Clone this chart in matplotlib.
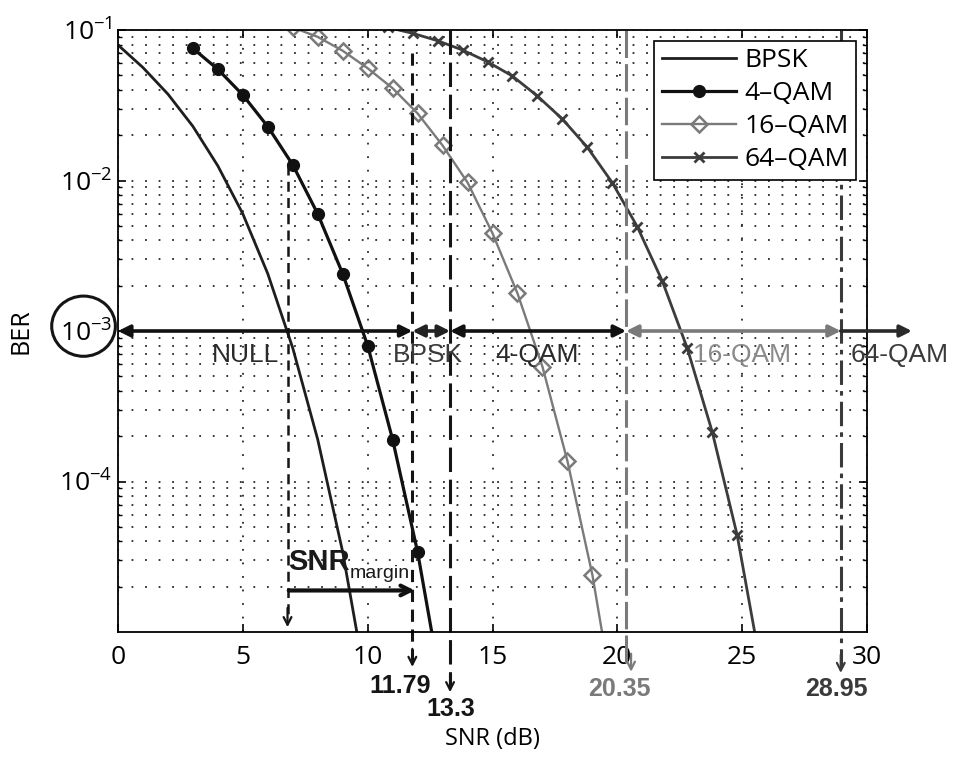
import matplotlib
matplotlib.use("Agg")
import matplotlib.pyplot as plt
from matplotlib.patches import Ellipse

# BER curves (SNR in dB)
snr_bpsk = [0, 1, 2, 3, 4, 5, 6, 7, 8, 9, 10]
ber_bpsk = [0.0795, 0.0563, 0.0375, 0.0229, 0.0125, 0.0060, 0.0024, 7.7e-4, 1.9e-4, 3.4e-5, 3.9e-6]

snr_4qam = [3, 4, 5, 6, 7, 8, 9, 10, 11, 12, 13]
ber_4qam = [0.0755, 0.0548, 0.0370, 0.0228, 0.0127, 0.0060, 0.0024, 8.0e-4, 1.9e-4, 3.4e-5, 3.9e-6]

snr_16qam = [7, 8, 9, 10, 11, 12, 13, 14, 15, 16, 17, 18, 19, 20]
ber_16qam = [0.104, 0.090, 0.0728, 0.0557, 0.0410, 0.0279, 0.0171, 0.0097, 0.00446,
             0.00178, 5.8e-4, 1.37e-4, 2.4e-5, 2.5e-6]

snr_64qam = [10.8, 11.8, 12.8, 13.8, 14.8, 15.8, 16.8, 17.8, 18.8, 19.8, 20.8, 21.8,
             22.8, 23.8, 24.8, 25.8]
ber_64qam = [0.104, 0.0951, 0.0849, 0.0736, 0.0615, 0.0494, 0.0364, 0.0256, 0.0166,
             0.00966, 0.00493, 0.00215, 7.7e-4, 2.14e-4, 4.4e-5, 5.3e-6]

target_ber = 1e-3
margin_start = 6.79
thresholds = [11.79, 13.3, 20.35, 28.95]
region_names = ["NULL", "BPSK", "4-QAM", "16-QAM", "64-QAM"]
region_text_x = [5.1, 12.4, 16.8, 25.0, 31.3]

TICKFONT = ["Open Sans", "DejaVu Sans"]
ANNFONT = ["Liberation Sans", "DejaVu Sans"]

plt.rcParams["font.family"] = TICKFONT
plt.rcParams["mathtext.fontset"] = "custom"
plt.rcParams["mathtext.rm"] = "Open Sans"
plt.rcParams["mathtext.bf"] = "Liberation Sans:bold"

fig = plt.figure(figsize=(9.56, 7.62), dpi=100)
ax = fig.add_axes([118 / 956, 1 - 632 / 762, 749 / 956, 602 / 762])

ax.semilogy(snr_bpsk, ber_bpsk, color="#1e1e1e", lw=2.0, label="BPSK")
ax.semilogy(snr_4qam, ber_4qam, color="#111111", lw=2.3, marker="o", ms=8.5,
            label="4–QAM")
ax.semilogy(snr_16qam, ber_16qam, color="#7a7a7a", lw=1.7, marker="D", ms=8,
            mfc="none", mew=1.8, label="16–QAM")
ax.semilogy(snr_64qam, ber_64qam, color="#3c3c3c", lw=2.0, marker="x", ms=7.5,
            mew=2, label="64–QAM")

ax.set_xlim(0, 30)
ax.set_ylim(1e-5, 1e-1)
ax.set_xticks([0, 5, 10, 15, 20, 25, 30])
ax.set_yticks([1e-4, 1e-3, 1e-2, 1e-1])

grid_style = dict(color="#282828", linestyle=(0, (1, 6.5)), linewidth=1.3)
ax.grid(True, which="major", axis="both", **grid_style)
ax.grid(True, which="minor", axis="y", **grid_style)
ax.tick_params(which="both", direction="in", top=True, right=True, labelsize=19)
ax.tick_params(which="major", length=6, width=1.2)
ax.tick_params(which="minor", length=3, width=1.0)
ax.tick_params(axis="x", pad=9)
ax.tick_params(axis="y", pad=4)
for s in ax.spines.values():
    s.set_linewidth(1.3)

ax.set_xlabel("SNR (dB)", fontsize=17)
ax.set_ylabel("BER", fontsize=18)
ax.xaxis.set_label_coords(0.5, -0.158)
ax.yaxis.set_label_coords(-0.113, 0.5)

leg = ax.legend(loc="upper right", fontsize=19, frameon=True, fancybox=False,
                framealpha=1, edgecolor="black", handlelength=2.8,
                borderaxespad=0.4, labelspacing=0.3, borderpad=0.3,
                handletextpad=0.3)
leg.get_frame().set_linewidth(1.2)

xt = ax.get_xaxis_transform()

# region arrows at the target BER
bounds = [0] + thresholds + [31.8]
arrow_cols = ["#111111", "#222222", "#111111", "#7a7a7a", "#2a2a2a"]
text_cols = ["#2a2a2a", "#3a3a3a", "#2a2a2a", "#8a8a8a", "#3a3a3a"]
for i in range(5):
    style = "<|-|>" if i < 4 else "-|>"
    ax.annotate("", xy=(bounds[i + 1], target_ber), xytext=(bounds[i], target_ber),
                arrowprops=dict(arrowstyle=style + ",head_length=0.7,head_width=0.35",
                                color=arrow_cols[i], lw=2.6, shrinkA=0, shrinkB=0),
                annotation_clip=False)
    ax.text(region_text_x[i], 0.46, region_names[i], transform=xt, ha="center",
            va="center", fontsize=19, color=text_cols[i], family=ANNFONT,
            clip_on=False)

# threshold dashed lines with labels below the axis
v_styles = [(0, (4, 2.5)), (0, (8, 2.5)), (0, (9, 2)), (0, (8, 2, 1.5, 2))]
v_cols = ["#151515", "#151515", "#7a7a7a", "#3a3a3a"]
v_top = [0.962, 1.0, 1.0, 1.0]
v_tip = [-0.058, -0.100, -0.066, -0.068]
lab_x = [11.29, 13.34, 20.1, 28.78]
lab_y = [-0.09, -0.128, -0.094, -0.094]
for i, th in enumerate(thresholds):
    ax.plot([th, th], [v_top[i], v_tip[i] + 0.012], transform=xt, color=v_cols[i],
            lw=2.2, linestyle=v_styles[i], clip_on=False)
    ax.annotate("", xy=(th + (0.2 if i == 2 else 0), v_tip[i]), xycoords=xt,
                xytext=(th + (0.2 if i == 2 else 0), v_tip[i] + 0.03), textcoords=xt,
                arrowprops=dict(arrowstyle="->,head_length=0.55,head_width=0.28",
                                color=v_cols[i], lw=1.6, shrinkA=0, shrinkB=0),
                annotation_clip=False)
    ax.text(lab_x[i], lab_y[i], f"{th:g}", transform=xt, ha="center", va="center",
            fontsize=18, fontweight="bold", color=v_cols[i], family=ANNFONT,
            clip_on=False)

# SNR margin
ax.plot([margin_start, margin_start], [0.776, 0.02], transform=xt, color="#151515",
        lw=1.8, linestyle=(0, (4, 2.5)))
ax.annotate("", xy=(margin_start, 0.008), xycoords=xt,
            xytext=(margin_start, 0.04), textcoords=xt,
            arrowprops=dict(arrowstyle="->,head_length=0.55,head_width=0.28",
                            color="#151515", lw=1.6, shrinkA=0, shrinkB=0))
ax.annotate("", xy=(thresholds[0] + 0.1, 0.069), xycoords=xt,
            xytext=(margin_start + 0.05, 0.069), textcoords=xt,
            arrowprops=dict(arrowstyle="->,head_length=0.7,head_width=0.35",
                            color="#111111", lw=3, shrinkA=0, shrinkB=0))
t = ax.text(margin_start + 0.02, 0.116, "SNR", transform=xt, ha="left", va="center",
            fontsize=21, fontweight="bold", color="#1a1a1a", family=ANNFONT)
ax.annotate("margin", xy=(1, 0.1), xycoords=t, xytext=(0, 0), textcoords="offset points",
            ha="left", va="center", fontsize=14, color="#1a1a1a", family=ANNFONT)

# circle round the 10^-3 tick label
ax.add_patch(Ellipse((-0.046, 0.508), 0.085, 0.1, transform=ax.transAxes,
                     fill=False, lw=2.2, ec="#151515", clip_on=False))

fig.savefig("out.png", dpi=100)
